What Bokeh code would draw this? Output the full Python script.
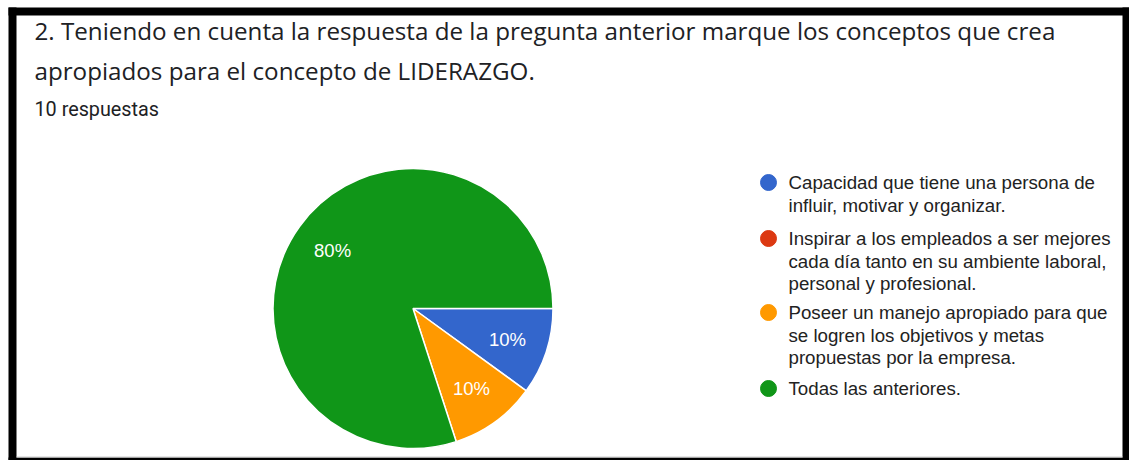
import math
from bokeh.plotting import figure
from bokeh.models import Range1d, ColumnDataSource
from bokeh.core.properties import value
from bokeh.embed import file_html
from bokeh.resources import INLINE

# ---- data ----
title_lines = [
    "2. Teniendo en cuenta la respuesta de la pregunta anterior marque los conceptos que crea",
    "apropiados para el concepto de LIDERAZGO.",
]
subtitle = "10 respuestas"
categories = [
    "Capacidad que tiene una persona de influir, motivar y organizar.",
    "Inspirar a los empleados a ser mejores cada día tanto en su ambiente laboral, personal y profesional.",
    "Poseer un manejo apropiado para que se logren los objetivos y metas propuestas por la empresa.",
    "Todas las anteriores.",
]
legend_lines = [
    ["Capacidad que tiene una persona de", "influir, motivar y organizar."],
    ["Inspirar a los empleados a ser mejores", "cada día tanto en su ambiente laboral,", "personal y profesional."],
    ["Poseer un manejo apropiado para que", "se logren los objetivos y metas", "propuestas por la empresa."],
    ["Todas las anteriores."],
]
counts = [1, 0, 1, 8]
colors = ["#3366cc", "#dc3912", "#ff9900", "#109618"]

# ---- layout (page pixel coordinates) ----
W, H = 1129, 460


def px(x):
    return x


def py(y):
    return H - y


p = figure(width=W, height=H, output_backend="svg", toolbar_location=None,
           x_range=Range1d(0, W), y_range=Range1d(0, H),
           min_border=0, border_fill_color="white", background_fill_color="white",
           outline_line_color=None)
p.axis.visible = False
p.grid.visible = False

# black frame
p.quad(left=[8, 8, 1122, 8], right=[16, 1129, 1129, 1129],
       top=[py(7), py(7), py(7), py(457)], bottom=[py(460), py(15), py(460), py(460)],
       fill_color="black", line_color=None)
p.segment(x0=[16], y0=[py(456.5)], x1=[1122], y1=[py(456.5)], line_color="#cccccc", line_width=1)

# title
p.text(x=[px(34)] * 2, y=[py(30), py(70)], text=title_lines, text_font=value("Open Sans"),
       text_font_size="24.2px", text_color="#202124", text_baseline="middle", text_align="left")
p.text(x=[px(34)], y=[py(109)], text=[subtitle], text_font=value("Roboto"),
       text_font_size="19.8px", text_color="#202124", text_baseline="middle", text_align="left")

# pie
cx, cy, r = px(412.5), py(308), 140
total = sum(counts)
starts, ends, lx, ly, labels, wc = [], [], [], [], [], []
cum = 0
for c, col in zip(counts, colors):
    a0 = -2 * math.pi * cum / total
    a1 = -2 * math.pi * (cum + c) / total
    cum += c
    if c == 0:
        continue
    starts.append(a0)
    ends.append(a1)
    wc.append(col)
    mid = (a0 + a1) / 2
    lx.append(cx + 0.71 * r * math.cos(mid))
    ly.append(cy + 0.71 * r * math.sin(mid))
    labels.append(f"{round(100 * c / total)}%")

src = ColumnDataSource(dict(start=starts, end=ends, color=wc))
p.wedge(x=cx, y=cy, radius=r, start_angle="start", end_angle="end", direction="clock",
        fill_color="color", line_color="white", line_width=1.5, source=src)
p.text(x=lx, y=ly, text=labels, text_font=value("Liberation Sans"), text_font_size="18.5px",
       text_color="white", text_align="center", text_baseline="middle")

# legend
item_y = [182, 238, 312, 388]
line_h = 22.5
dot_x, text_x = 768, 788
for iy, lines, col in zip(item_y, legend_lines, colors):
    p.scatter(x=[px(dot_x)], y=[py(iy)], size=16, marker="circle", fill_color=col, line_color=col)
    p.text(x=[px(text_x)] * len(lines), y=[py(iy + k * line_h) for k in range(len(lines))],
           text=lines, text_font=value("Liberation Sans"), text_font_size="18.7px",
           text_color="#222222", text_align="left", text_baseline="middle")

open("out.html", "w").write(file_html(p, INLINE))
